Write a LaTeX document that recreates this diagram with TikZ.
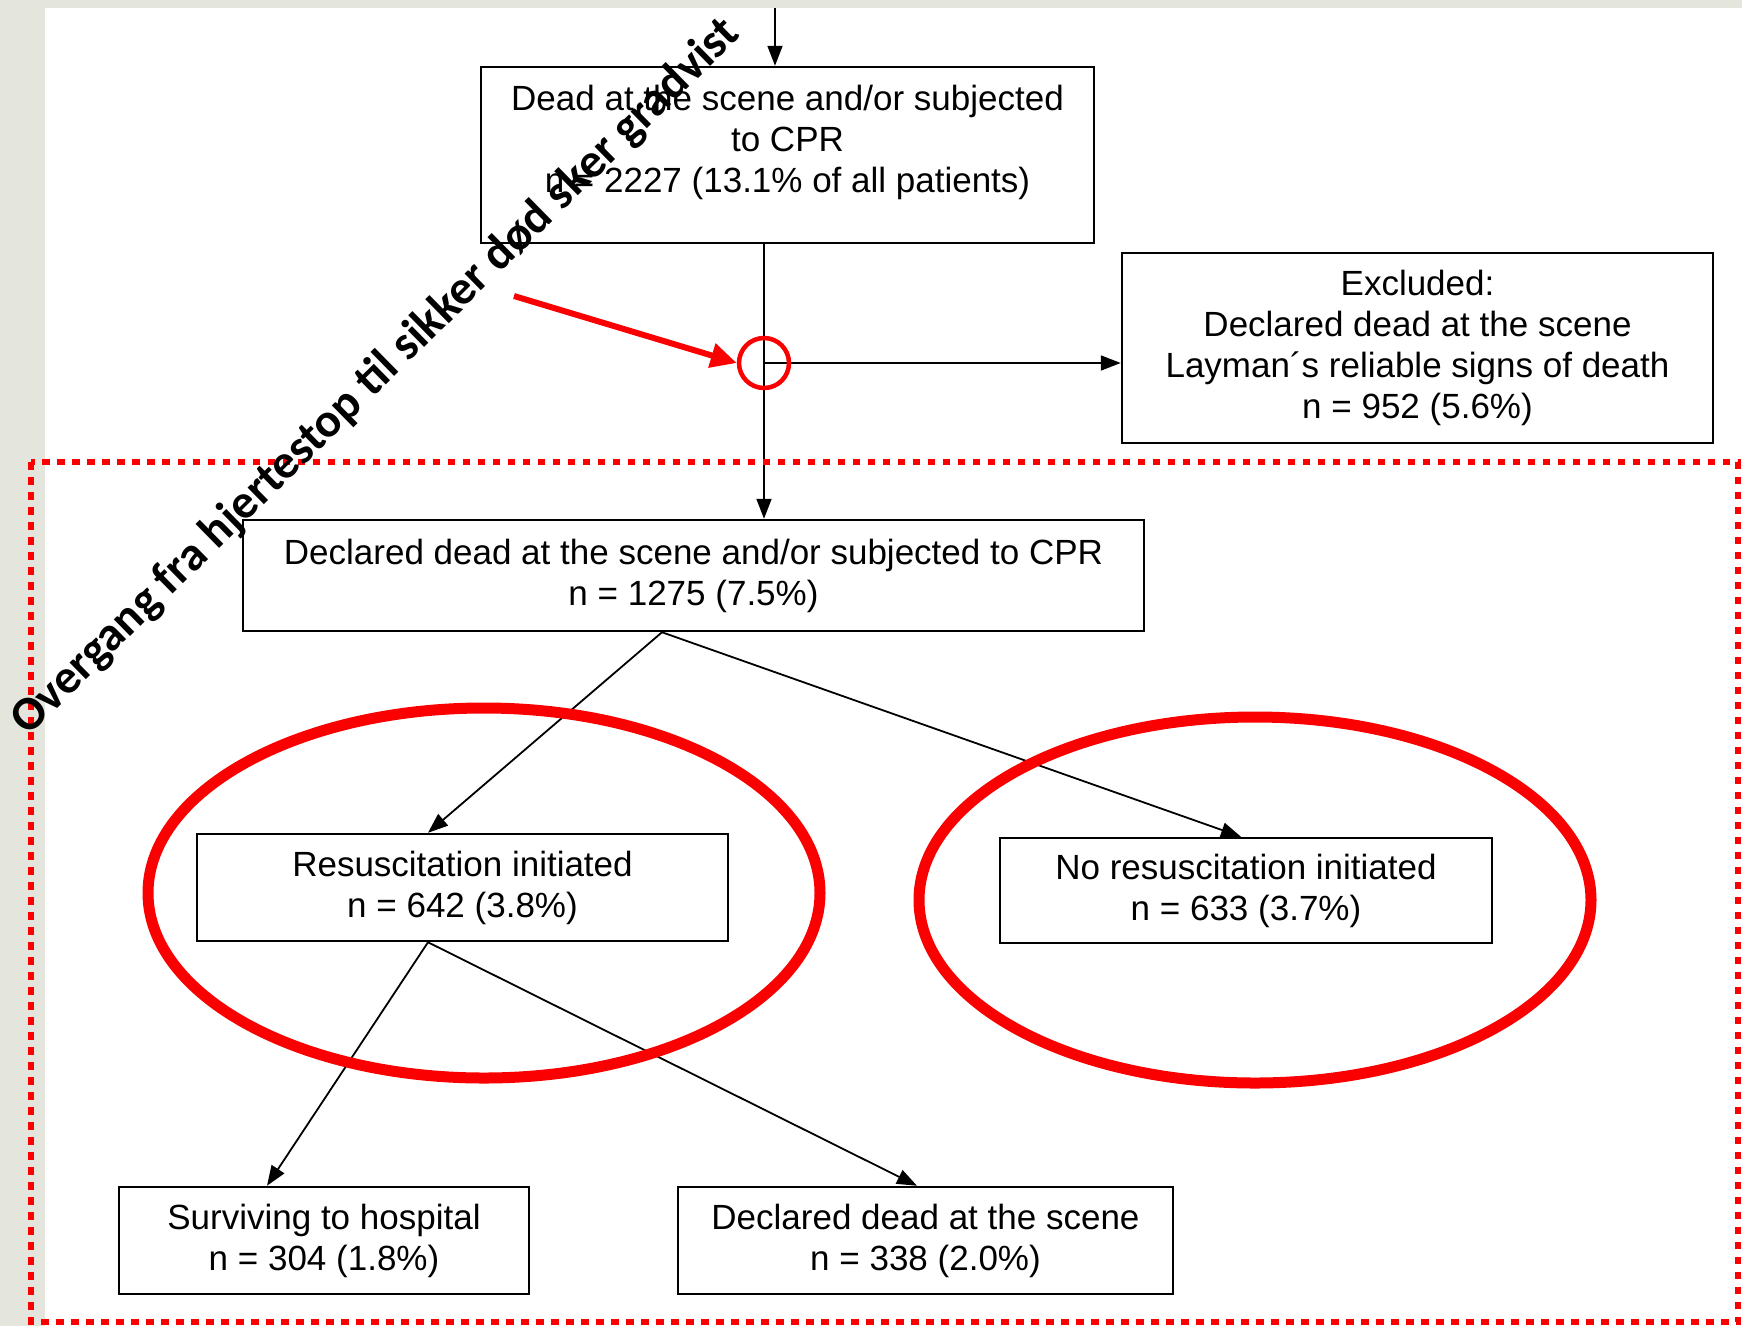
\documentclass[tikz,border=0pt]{standalone}
\usepackage{fontspec}
\setmainfont{Liberation Sans}
\newfontfamily\carl{Carlito}
\usetikzlibrary{arrows.meta,shapes.geometric}
\definecolor{bgc}{RGB}{228,230,222}
\definecolor{redc}{RGB}{250,0,0}
\tikzset{
  box/.style={draw=black, line width=2.5pt, fill=white, inner sep=0pt, align=center,
    font=\fontsize{35}{41}\selectfont},
  txt/.style={inner sep=0pt, align=center, font=\fontsize{35}{41}\selectfont},
  conn/.style={draw=black, line width=1.8pt, -{Triangle[length=20pt,width=15pt]}},
  redring/.style={draw=redc, line width=11pt},
}
\begin{document}
\begin{tikzpicture}[x=1pt,y=-1pt]
\useasboundingbox (0,0) rectangle (1742,1326);
\fill[bgc] (0,0) rectangle (1742,1326);
\fill[white] (45,8) rectangle (1742,1326);

% boxes
\node[box, minimum width=613pt, minimum height=176pt] (b1) at (787.5,155) {};
\node[txt] (b1t) at ([yshift=13pt]b1.center) {Dead at the scene and/or subjected\\to CPR\\n = 2227 (13.1\% of all patients)};
\node[box, minimum width=591pt, minimum height=190pt] (exc) at (1417.5,348) {Excluded:\\Declared dead at the scene\\Layman´s reliable signs of death\\n = 952 (5.6\%)};
\node[box, minimum width=901pt, minimum height=111pt] (b3) at (693.5,575.5) {Declared dead at the scene and/or subjected to CPR\\n = 1275 (7.5\%)};
\node[box, minimum width=531pt, minimum height=107pt] (res) at (462.5,887.5) {Resuscitation initiated\\n = 642 (3.8\%)};
\node[box, minimum width=492pt, minimum height=105pt] (nores) at (1246,890.5) {No resuscitation initiated\\n = 633 (3.7\%)};
\node[box, minimum width=410pt, minimum height=107pt] (surv) at (324,1240.5) {Surviving to hospital\\n = 304 (1.8\%)};
\node[box, minimum width=495pt, minimum height=107pt] (dds) at (925.5,1240.5) {Declared dead at the scene\\n = 338 (2.0\%)};

% connectors
\coordinate (topin) at (775,8);
\draw[conn] (topin) -- (b1.north -| topin);
\coordinate (b1d) at (b1.south -| 764,0);
\coordinate (jn) at (764,363);
\draw[conn] (b1d) -- (b3.north -| b1d);
\draw[conn] (jn) -- (exc.west |- jn);
\coordinate (b3d) at (b3.south -| 662,0);
\draw[conn] (b3d) -- (res.north -| 428,0);
\draw[conn] (b3d) -- (nores.north -| 1241,0);
\coordinate (resd) at (res.south -| 428,0);
\draw[conn] (resd) -- (surv.north -| 267,0);
\draw[conn] (resd) -- (dds.north -| 917,0);

% red annotations
\draw[redc, line width=6.5pt, dash pattern=on 7.5pt off 7.5pt] (31,462) rectangle (1738,1322);
\node[draw=redc, line width=4.5pt, ellipse, minimum width=50pt, minimum height=50pt, inner sep=0pt] (jc) at (jn) {};
\coordinate (rastart) at (514,296);
\draw[redc, line width=6pt, -{Triangle[length=26pt,width=24pt]}] (rastart) -- (jc.west);
\draw[redring] (484,893) ellipse [x radius=336pt, y radius=185pt];
\draw[redring] (1255,900) ellipse [x radius=336pt, y radius=183pt];

% rotated caption
\node[inner sep=0pt, rotate=44.5, font=\carl\bfseries\fontsize{48}{50}\selectfont] (cap) at (376,377) {Overgang fra hjertestop til sikker død sker gradvist};
\end{tikzpicture}
\end{document}
